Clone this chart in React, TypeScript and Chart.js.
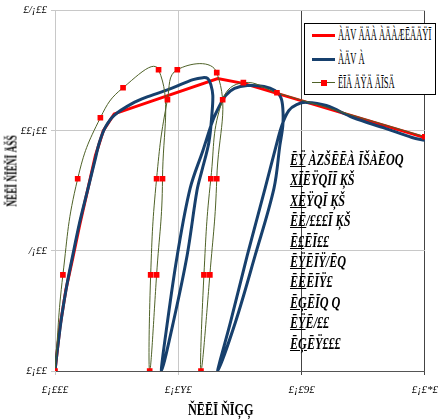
import React, { useEffect, useRef } from "react";
import { Chart, registerables } from "chart.js";
Chart.register(...registerables);

// ---- data ----
const xTickLabels = ["£¡£££", "£¡£Y£", "£¡£9£", "£¡£*£"];
const yTickLabels = ["£¡££", "/¡££", "££¡££", "£/¡££"];

const legendLabels = ["ÀÄV ÄÄÀ ÀÄÀÆĒÄÄŸĪ", "ÀÄV À", "ĒĪÄ ÄŸÄ ÄĪSÄ"];
const xTitle = "ŇĒĒĪ ŇĪĢĢ";
const yTitle = "ŇĒĒĪ ŇĪĒŇĪ ÄŠŠ";
const noteLines = [
  "ĒŸ ÀZŠĒĒÀ ĪŠÀĒOQ",
  "XĪĒŸQĪĪ ĶŠ",
  "XĒŸQĪ ĶŠ",
  "ĒĒ/£££Ī ĶŠ",
  "Ē£ĒĪ££",
  "ĒŸĒĪŸ/ĒQ",
  "ĒĒĒĪŸ£",
  "ĒĢĒĪQ Q",
  "ĒŸĒ/££",
  "ĒĢĒŸ£££",
];

// envelope (red)
const envStrain = [0, 0.0008, 0.00176, 0.00288, 0.004, 0.00528, 0.00656, 0.00784, 0.0096, 0.0264, 0.03072, 0.06];
const envStress = [0, 1.83, 3.37, 4.7, 6.07, 7.52, 8.97, 10.0, 10.7, 12.17, 11.96, 9.72];

// analysis (blue)
const anaStrain = [
  0, 0.00048, 0.00112, 0.00192, 0.00288, 0.004, 0.00528, 0.0064, 0.0072, 0.00816, 0.0096, 0.01248, 0.0152, 0.01888, 0.0224, 0.024, 0.0248, 0.02528,
  0.0256, 0.02544, 0.02496, 0.02384, 0.02304, 0.02144, 0.0192, 0.01728,
  0.01824, 0.01984, 0.02192, 0.024, 0.0256, 0.02672, 0.02768, 0.02912, 0.0312, 0.03392, 0.03568,
  0.03664, 0.03696, 0.03696, 0.03648, 0.03552, 0.03248, 0.02928, 0.0264,
  0.02848, 0.0312, 0.03408, 0.03568, 0.0368, 0.03792, 0.0392, 0.0408, 0.044, 0.04832, 0.0536, 0.05792, 0.06,
];
const anaStress = [
  0, 1.08, 2.33, 3.57, 4.82, 6.19, 7.52, 8.68, 9.51, 10.14, 10.64, 11.13, 11.43, 11.76, 12.13, 12.21, 12.17, 11.92,
  11.47, 10.64, 9.51, 8.35, 7.52, 4.82, 2.04, 0,
  2.04, 4.82, 7.6, 9.18, 10.43, 11.05, 11.47, 11.76, 11.88, 11.84, 11.67,
  11.38, 10.93, 10.22, 9.39, 7.6, 4.82, 2.04, 0,
  2.04, 4.82, 7.6, 9.18, 10.22, 10.84, 11.09, 11.18, 11.05, 10.55, 10.1, 9.72, 9.6,
];

// test (green with markers)
const testStrain = [
  0, 0.00128, 0.00368, 0.00736, 0.01104, 0.0168, 0.01744, 0.01648, 0.01536, 0.01552, 0.01648, 0.01824, 0.01984,
  0.02624, 0.02624, 0.02512, 0.02368, 0.02416, 0.02528, 0.0272, 0.03056, 0.036, 0.06,
];
const testStress = [
  0, 4.0, 8.0, 10.54, 11.79, 12.54, 8.0, 4.0, 0, 4.0, 8.0, 11.29, 12.54,
  12.42, 8.0, 4.0, 0, 4.0, 8.0, 11.29, 12.0, 11.58, 9.75,
];

const xMin = 0, xMax = 0.06, xStep = 0.02;
const yMin = 0, yMax = 15, yStep = 5;

const RED = "#ff0000";
const BLUE = "#17406d";
const GREEN = "#4f6228";
const xGridColors = ["#c8c8c8", "#c8c8c8", "#444444", "#444444"];

const pts = (xs: number[], ys: number[]) => xs.map((x, i) => ({ x, y: ys[i] }));

const serif = "'Liberation Serif', 'Times New Roman', serif";

export default function App() {
  const ref = useRef<HTMLCanvasElement | null>(null);
  useEffect(() => {
    if (!ref.current) return;
    const chart = new Chart(ref.current, {
      type: "scatter",
      data: {
        datasets: [
          {
            label: legendLabels[2],
            data: pts(testStrain, testStress),
            showLine: true,
            borderColor: GREEN,
            borderWidth: 1,
            tension: 0.45,
            pointStyle: "rect",
            pointRadius: 4,
            pointBackgroundColor: RED,
            pointBorderColor: RED,
            pointBorderWidth: 0,
            order: 0,
          },
          {
            label: legendLabels[1],
            data: pts(anaStrain, anaStress),
            showLine: true,
            borderColor: BLUE,
            borderWidth: 3,
            tension: 0.35,
            pointRadius: 0,
            order: 1,
          },
          {
            label: legendLabels[0],
            data: pts(envStrain, envStress),
            showLine: true,
            borderColor: RED,
            borderWidth: 3,
            tension: 0,
            pointRadius: 0,
            order: 2,
          },
        ],
      },
      options: {
        responsive: false,
        animation: false,
        devicePixelRatio: 1,
        layout: { padding: { top: 10, right: 17, left: 0, bottom: 0 } },
        plugins: { legend: { display: false }, tooltip: { enabled: false } },
        scales: {
          x: {
            type: "linear",
            min: xMin,
            max: xMax,
            ticks: {
              stepSize: xStep,
              maxRotation: 0,
              autoSkip: false,
              padding: 9,
              color: "#000",
              font: { family: serif, style: "italic", size: 11 },
              callback: (_v: any, i: number) => xTickLabels[i],
            },
            grid: {
              color: (ctx: any) => xGridColors[ctx.index] ?? "#c8c8c8",
              tickLength: 4,
            },
            border: { color: "#555555", width: 1 },
            afterFit: (s: any) => {
              s.height = 49;
            },
          },
          y: {
            type: "linear",
            min: yMin,
            max: yMax,
            ticks: {
              stepSize: yStep,
              padding: 4,
              color: "#000",
              font: { family: serif, style: "italic", size: 11 },
              callback: (_v: any, i: number) => yTickLabels[i],
            },
            grid: { color: "#c8c8c8", tickLength: 4 },
            border: { color: "#c8c8c8", width: 1 },
            afterFit: (s: any) => {
              s.width = 55;
            },
          },
        },
      },
    } as any);
    return () => chart.destroy();
  }, []);

  const legendItem = (i: number, color: string, width: number, marker: boolean) => (
    <div key={i} style={{ position: "absolute", left: 0, top: 0 + i * 24, height: 24, width: 130 }}>
      <div style={{ position: "absolute", left: 7, top: 10, width: 23, height: width, background: color }} />
      {marker && (
        <div style={{ position: "absolute", left: 16, top: 8, width: 6, height: 6, background: RED }} />
      )}
      <div
        style={{
          position: "absolute",
          left: 33,
          top: 1,
          fontFamily: serif,
          fontSize: 17,
          lineHeight: "19px",
          whiteSpace: "nowrap",
          transform: "scaleX(0.5)",
          transformOrigin: "left",
          color: "#000",
        }}
      >
        {legendLabels[i]}
      </div>
    </div>
  );

  return (
    <div style={{ position: "fixed", left: 0, top: 0, width: 447, height: 420, background: "#fff", overflow: "hidden" }}>
      <canvas ref={ref} width={447} height={420} style={{ width: 447, height: 420, display: "block" }} />
      <div
        style={{
          position: "absolute",
          left: 304,
          top: 23,
          width: 132,
          height: 72,
          background: "#fff",
          border: "1px solid #000",
          boxSizing: "border-box",
        }}
      >
        {legendItem(0, RED, 3, false)}
        {legendItem(1, BLUE, 3, false)}
        {legendItem(2, GREEN, 1, true)}
      </div>
      <div style={{ position: "absolute", left: 290, top: 150 }}>
        {noteLines.map((t, i) => (
          <div
            key={i}
            style={{
              fontFamily: serif,
              fontStyle: "italic",
              fontWeight: "bold",
              fontSize: 16,
              lineHeight: "20.4px",
              whiteSpace: "nowrap",
              transform: "scaleX(0.76)",
              transformOrigin: "left",
              color: "#000",
            }}
          >
            <span style={{ textDecoration: "underline" }}>{t.slice(0, 2)}</span>
            {t.slice(2)}
          </div>
        ))}
      </div>
      <div
        style={{
          position: "absolute",
          left: 188,
          top: 401,
          fontFamily: serif,
          fontWeight: "bold",
          fontSize: 17,
          lineHeight: "18px",
          whiteSpace: "nowrap",
          transform: "scaleX(0.72)",
          transformOrigin: "left",
          color: "#000",
        }}
      >
        {xTitle}
      </div>
      <div
        style={{
          position: "absolute",
          left: 12,
          top: 171,
          fontFamily: serif,
          fontWeight: "bold",
          fontSize: 15,
          lineHeight: "17px",
          whiteSpace: "nowrap",
          transform: "translate(-50%, -50%) rotate(-90deg) scaleX(0.62)",
          color: "#000",
        }}
      >
        {yTitle}
      </div>
    </div>
  );
}
